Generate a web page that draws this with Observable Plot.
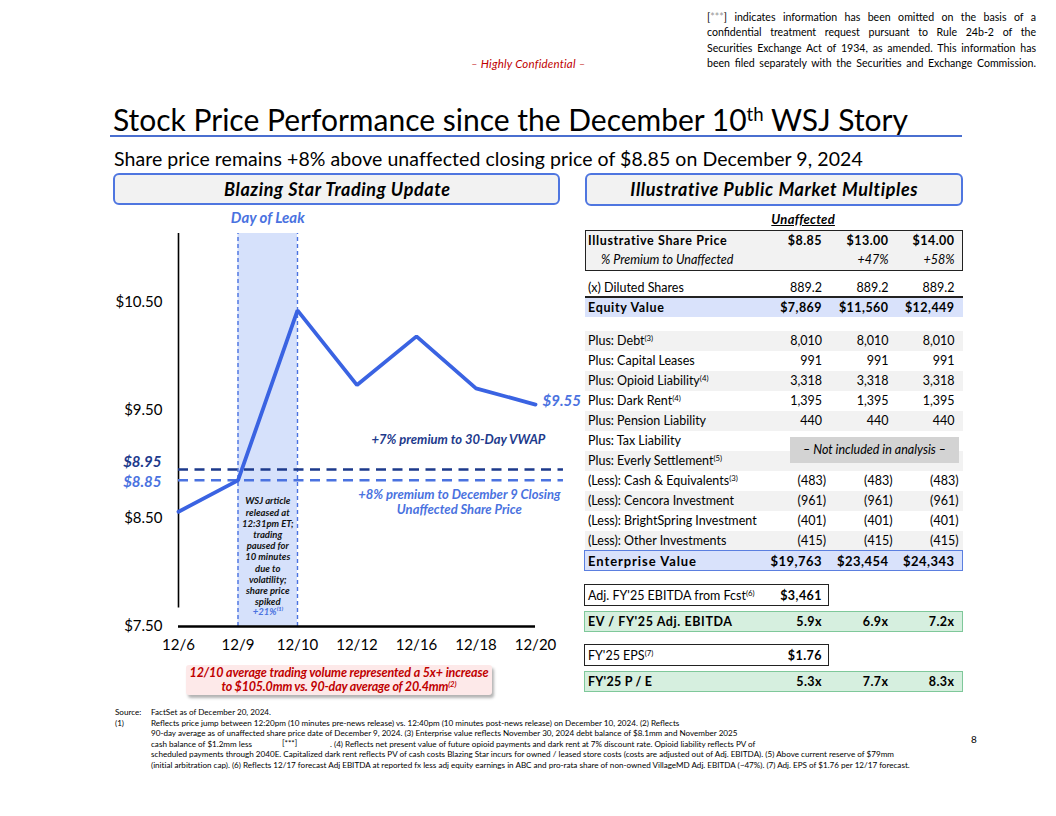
<!DOCTYPE html>
<html><head><meta charset="utf-8">
<script src="https://cdn.jsdelivr.net/npm/d3@7"></script>
<script src="https://cdn.jsdelivr.net/npm/@observablehq/plot@0.6"></script>
<style>
html,body{margin:0;padding:0;background:#fff;}
#page{position:relative;width:1056px;height:816px;overflow:hidden;font-family:Lato,"Open Sans",sans-serif;color:#000;}
.abs{position:absolute;white-space:nowrap;}
.sup{font-size:0.62em;vertical-align:0.55em;line-height:0;}
.j{white-space:normal;text-align:justify;text-align-last:justify;}
</style></head><body><div id="page"></div>
<script>
// ---------- chart data ----------
const dates = ["12/6","12/9","12/10","12/12","12/16","12/18","12/20"];
const prices = [8.56, 8.85, 10.42, 9.73, 10.18, 9.70, 9.55];
const yTicks = [7.5, 8.5, 9.5, 10.5];
const refValues = [8.95, 8.85];
const refLabels = ["$8.95", "$8.85"];
const leakDates = ["12/9", "12/10"];

// ---------- table data ----------
const colHeads = ["$8.85", "$13.00", "$14.00"];
const premiums = ["", "+47%", "+58%"];
const dilutedShares = ["889.2", "889.2", "889.2"];
const equityValues = ["$7,869", "$11,560", "$12,449"];
const bridgeLabels = ["Plus: Debt", "Plus: Capital Leases", "Plus: Opioid Liability", "Plus: Dark Rent",
  "Plus: Pension Liability", "Plus: Tax Liability", "Plus: Everly Settlement",
  "(Less): Cash & Equivalents", "(Less): Cencora Investment", "(Less): BrightSpring Investment", "(Less): Other Investments"];
const bridgeNotes = ["(3)", "", "(4)", "(4)", "", "", "(5)", "(3)", "", "", ""];
const bridgeValues = [
  ["8,010","8,010","8,010"], ["991","991","991"], ["3,318","3,318","3,318"], ["1,395","1,395","1,395"],
  ["440","440","440"], null, null,
  ["(483)","(483)","(483)"], ["(961)","(961)","(961)"], ["(401)","(401)","(401)"], ["(415)","(415)","(415)"]];
const evValues = ["$19,763", "$23,454", "$24,343"];
const ebitdaFcst = "$3,461";
const evEbitda = ["5.9x", "6.9x", "7.2x"];
const epsFcst = "$1.76";
const peValues = ["5.3x", "7.7x", "8.3x"];

// ---------- helpers ----------
const page = document.getElementById("page");
function px(v){return v+"px";}
function put(html, css) { const d = document.createElement("div"); d.className = "abs"; d.innerHTML = html; Object.assign(d.style, css); page.appendChild(d); return d; }
// o: {x | xr | xc, cy, size, fit (target width), css}
function label(html, o) {
  const h = Math.round(o.size * 1.5);
  const d = put(html, Object.assign({top: px(o.cy - h/2), height: px(h), lineHeight: px(h), fontSize: px(o.size), left: "0px"}, o.css || {}));
  let w = d.getBoundingClientRect().width;
  if (o.fit) {
    const n = Math.max(1, d.textContent.length - 1);
    d.style.letterSpacing = px((o.fit - w) / n);
    w = d.getBoundingClientRect().width - (o.fit - w) / n;
  }
  const left = o.x != null ? o.x : o.xr != null ? o.xr - w : o.xc - w / 2;
  d.style.left = px(left);
  return d;
}
function box(x, y, w, h, css = {}) { return put("", Object.assign({left:px(x), top:px(y), width:px(w), height:px(h), boxSizing:"border-box"}, css)); }
const sup = s => s ? `<span class="sup">${s}</span>` : "";

// ---------- header ----------
const confLines = [
  '[<span style="color:#999">***</span>] indicates information has been omitted on the basis of a',
  'confidential treatment request pursuant to Rule 24b-2 of the',
  'Securities Exchange Act of 1934, as amended. This information has',
  'been filed separately with the Securities and Exchange Commission.'];
confLines.forEach((t, k) => {
  const h = 16;
  const d = put(t, {left:"707px", width:"329px", top:px(17 + k*15.4 - h/2), height:px(h), lineHeight:px(h), fontSize:"10.6px"});
  d.classList.add("j");
});
label("– Highly Confidential –", {x: 471, cy: 63, size: 11.5, fit: 114, css: {color:"#c00000", fontStyle:"italic"}});

label('Stock Price Performance since the December 10<span class="sup">th</span> WSJ Story', {x: 113, cy: 119, size: 30, fit: 795});
box(110, 135, 852, 1.6, {background:"#4a6fd0"});
label("Share price remains +8% above unaffected closing price of $8.85 on December 9, 2024", {x: 114, cy: 158, size: 19.5, fit: 748});

// section header boxes
box(113, 173, 447, 32, {background:"#f2f2f2", border:"2px solid #4f76e0", borderRadius:"6px"});
label("Blazing Star Trading Update", {xc: 337, cy: 189, size: 18, fit: 226, css: {fontWeight:"700", fontStyle:"italic"}});
box(585, 173, 378, 33, {background:"#f2f2f2", border:"2px solid #4f76e0", borderRadius:"6px"});
label("Illustrative Public Market Multiples", {xc: 774, cy: 189.5, size: 18, fit: 287, css: {fontWeight:"700", fontStyle:"italic"}});

// ---------- chart ----------
const BLUE = "#3a63e2", MID = "#4a72e0", NAVY = "#1d3a8c", BAND = "#d6e1fb";
const yTop = 11.13;
const pts = dates.map((d, i) => ({i, date: d, price: prices[i]}));
const li0 = dates.indexOf(leakDates[0]), li1 = dates.indexOf(leakDates[1]);
const leak = [{x1: li0, x2: li1, y1: 7.5, y2: yTop}];
const leakEdges = [{x: li0, y1: 7.5, y2: yTop}, {x: li1, y1: 7.5, y2: yTop}];
const refs = refValues.map((v, k) => ({v, label: refLabels[k], x1: 0, x2: dates.length - 1 + 0.47, color: k === 0 ? NAVY : MID}));
const last = pts[pts.length - 1];
const refText = (r, dy) => Plot.text([r], {x: "x1", y: "v", text: "label", dx: -17, dy, textAnchor: "end", fill: r.color, fontSize: 15, fontWeight: "bold", fontStyle: "italic"});

const chart = Plot.plot({
  width: 490, height: 450,
  marginLeft: 78, marginRight: 55, marginTop: 23, marginBottom: 34,
  x: {domain: [0, dates.length - 1]},
  y: {domain: [7.5, yTop]},
  style: {fontFamily: "Lato, sans-serif", background: "transparent", overflow: "visible", color: "#000"},
  marks: [
    Plot.rect(leak, {x1: "x1", x2: "x2", y1: "y1", y2: "y2", fill: BAND}),
    Plot.ruleX(leakEdges, {x: "x", y1: "y1", y2: "y2", stroke: MID, strokeWidth: 1.4, strokeDasharray: "4,3"}),
    Plot.axisY(yTicks, {tickFormat: d3.format("$.2f"), tickSize: 0, tickPadding: 16, fontSize: 15, label: null}),
    Plot.axisX(d3.range(dates.length), {tickFormat: i => dates[i], tickSize: 0, tickPadding: 13, fontSize: 15, label: null}),
    Plot.ruleX([{x: 0, y1: 7.67, y2: yTop}], {x: "x", y1: "y1", y2: "y2", stroke: "#000", strokeWidth: 1.6}),
    Plot.ruleY([{y: 7.5, x1: 0, x2: dates.length - 1}], {y: "y", x1: "x1", x2: "x2", stroke: "#000", strokeWidth: 2.6}),
    Plot.ruleY(refs, {y: "v", x1: "x1", x2: "x2", stroke: "color", strokeWidth: 2.5, strokeDasharray: "10,6.5"}),
    refText(refs[0], -7),
    refText(refs[1], 2),
    Plot.line(pts, {x: "i", y: "price", stroke: BLUE, strokeWidth: 3.8, strokeLinejoin: "miter"}),
    Plot.text([last], {x: "i", y: "price", text: d => "$" + d.price.toFixed(2), dx: 7, dy: -3, textAnchor: "start", fill: MID, fontSize: 15, fontWeight: "bold", fontStyle: "italic"}),
    Plot.text(["Day of Leak"], {x: (li0 + li1) / 2, y: 11.27, text: d => d, fill: MID, fontSize: 15, fontWeight: "bold", fontStyle: "italic"}),
    Plot.text(["WSJ article\nreleased at\n12:31pm ET;\ntrading\npaused for\n10 minutes\ndue to\nvolatility;\nshare price\nspiked"],
      {x: (li0 + li1) / 2, y: 8.196, text: d => d, fill: "#111", fontSize: 9.5, lineHeight: 1.18, fontWeight: "bold", fontStyle: "italic"}),
    Plot.text(["+21%⁽¹⁾"], {x: (li0 + li1) / 2, y: 7.636, text: d => d, fill: MID, fontSize: 9.5, fontWeight: "bold", fontStyle: "italic"}),
    Plot.text(["+7% premium to 30-Day VWAP"], {x: 4.705, y: 9.227, text: d => d, fill: NAVY, fontSize: 13, fontWeight: "bold", fontStyle: "italic"}),
    Plot.text(["+8% premium to December 9 Closing\nUnaffected Share Price"], {x: 4.72, y: 8.65, text: d => d, fill: MID, fontSize: 13, lineHeight: 1.15, fontWeight: "bold", fontStyle: "italic"})
  ]
});
chart.style.position = "absolute";
chart.style.left = "100px";
chart.style.top = "210px";
page.appendChild(chart);

// red volume callout
box(186, 665, 306, 30, {background:"#fde9e9", boxShadow:"2px 3px 3px rgba(0,0,0,0.3)", borderRadius:"3px"});
const redCss = {color:"#c00000", fontWeight:"700", fontStyle:"italic"};
label("12/10 average trading volume represented a 5x+ increase", {xc: 339, cy: 672.5, size: 12.5, fit: 299, css: redCss});
label('to $105.0mm vs. 90-day average of 20.4mm<span class="sup">(2)</span>', {xc: 339, cy: 686.5, size: 12.5, fit: 235, css: redCss});

// ---------- table ----------
const TS = 12.5;
const colR = [822, 888.5, 954.5];
const B = {fontWeight:"700", letterSpacing:"0.45px"};
function vals(arr, cy, css = {}, size = TS) { arr.forEach((v, k) => { if (v) label(v, {xr: colR[k] + (v.endsWith(")") ? 4 : 0), cy, size, css}); }); }

label("Unaffected", {xc: 803, cy: 219, size: 13, fit: 63, css: {fontWeight:"700", fontStyle:"italic", textDecoration:"underline"}});
box(585, 230, 378, 41, {background:"#f2f2f2", border:"1.6px solid #222"});
label("Illustrative Share Price", {x: 588, cy: 240, size: TS, fit: 139, css: {fontWeight:"700"}});
vals(colHeads, 240, B);
label("% Premium to Unaffected", {x: 601, cy: 259.5, size: TS, css: {fontStyle:"italic"}});
vals(premiums, 259.5, {fontStyle:"italic"});

label("(x) Diluted Shares", {x: 588, cy: 287, size: TS});
vals(dilutedShares, 287);
box(585, 296, 378, 2, {background:"#222"});
box(585, 298, 378, 19, {background:"#d9e2fb"});
label("Equity Value", {x: 588, cy: 307.5, size: TS, fit: 76, css: {fontWeight:"700"}});
vals(equityValues, 307.5, B);

bridgeLabels.forEach((lab, k) => {
  const cy = 340.7 + k * 20;
  if (k % 2 === 0) box(585, cy - 10, 378, 20, {background:"#f2f2f2"});
});
box(790, 436.5, 169, 26, {background:"#d3d3d3"});
label("– Not included in analysis –", {xc: 874.5, cy: 449.5, size: TS, css: {fontStyle:"italic"}});
bridgeLabels.forEach((lab, k) => {
  const cy = 340.7 + k * 20;
  label(lab + sup(bridgeNotes[k]), {x: 588, cy, size: TS});
  if (bridgeValues[k]) vals(bridgeValues[k], cy);
});

box(584, 550, 379, 21, {background:"#d9e2fb", border:"1.6px solid #5b7fe0"});
label("Enterprise Value", {x: 588, cy: 560.5, size: 13, fit: 108, css: {fontWeight:"700"}});
vals(evValues, 560.5, B, 13);

box(584, 584, 245, 22, {background:"#fff", border:"1.6px solid #222"});
label("Adj. FY'25 EBITDA from Fcst" + sup("(6)"), {x: 588, cy: 595, size: TS});
label(ebitdaFcst, {xr: colR[0], cy: 595, size: TS, css: B});
box(584, 610.5, 379, 21, {background:"#d6efdf", border:"1.6px solid #7fc89a"});
label("EV / FY'25 Adj. EBITDA", {x: 588, cy: 621, size: TS, fit: 144, css: {fontWeight:"700"}});
vals(evEbitda, 621, B);

box(584, 644, 245, 22, {background:"#fff", border:"1.6px solid #222"});
label("FY'25 EPS" + sup("(7)"), {x: 588, cy: 655, size: TS});
label(epsFcst, {xr: colR[0], cy: 655, size: TS, css: B});
box(584, 671, 379, 21, {background:"#d6efdf", border:"1.6px solid #7fc89a"});
label("FY'25 P / E", {x: 588, cy: 681.5, size: TS, fit: 64, css: {fontWeight:"700"}});
vals(peValues, 681.5, B);

// ---------- footnotes ----------
const FS = 8.1;
const fy = k => 712 + k * 10.5;
label("Source:", {x: 115, cy: fy(0), size: FS});
label("FactSet as of December 20, 2024.", {x: 151, cy: fy(0), size: FS});
label("(1)", {x: 115, cy: fy(1), size: FS});
label("Reflects price jump between 12:20pm (10 minutes pre-news release) vs. 12:40pm (10 minutes post-news release) on December 10, 2024. (2) Reflects", {x: 151, cy: fy(1), size: FS});
label("90-day average as of unaffected share price date of December 9, 2024. (3) Enterprise value reflects November 30, 2024 debt balance of $8.1mm and November 2025", {x: 151, cy: fy(2), size: FS});
label("cash balance of $1.2mm less", {x: 151, cy: fy(3), size: FS});
label("[***]", {x: 282, cy: fy(3) - 1, size: FS});
label(". (4) Reflects net present value of future opioid payments and dark rent at 7% discount rate. Opioid liability reflects PV of", {x: 330, cy: fy(3), size: FS});
label("scheduled payments through 2040E. Capitalized dark rent reflects PV of cash costs Blazing Star incurs for owned / leased store costs (costs are adjusted out of Adj. EBITDA). (5) Above current reserve of $79mm", {x: 151, cy: fy(4), size: FS, fit: 743});
label("(initial arbitration cap). (6) Reflects 12/17 forecast Adj EBITDA at reported fx less adj equity earnings in ABC and pro-rata share of non-owned VillageMD Adj. EBITDA (~47%). (7) Adj. EPS of $1.76 per 12/17 forecast.", {x: 151, cy: fy(5), size: FS, fit: 759});
label("8", {x: 971, cy: 739, size: 10});
</script></body></html>
